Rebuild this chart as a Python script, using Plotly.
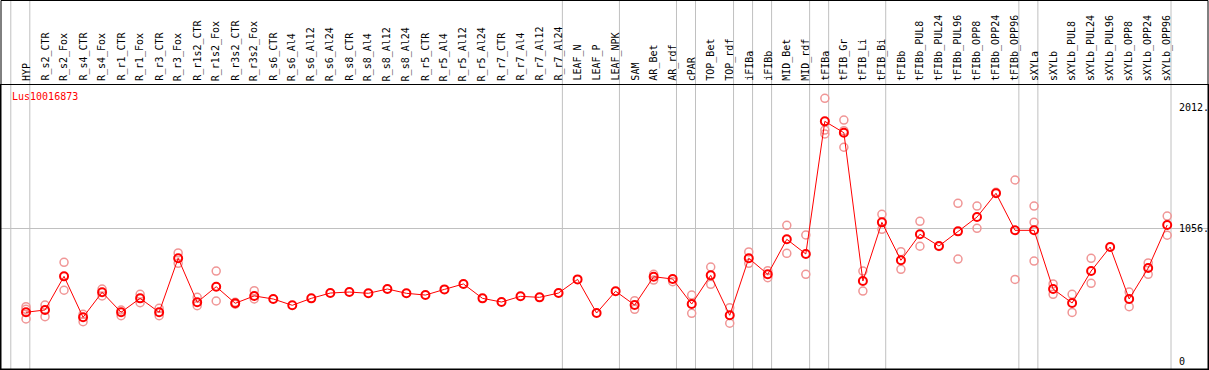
import plotly.graph_objects as go

title = "Lus10016873"

categories = ["HYP", "R_s2_CTR", "R_s2_Fox", "R_s4_CTR", "R_s4_Fox", "R_r1_CTR", "R_r1_Fox",
              "R_r3_CTR", "R_r3_Fox", "R_r1s2_CTR", "R_r1s2_Fox", "R_r3s2_CTR", "R_r3s2_Fox",
              "R_s6_CTR", "R_s6_Al4", "R_s6_Al12", "R_s6_Al24", "R_s8_CTR", "R_s8_Al4",
              "R_s8_Al12", "R_s8_Al24", "R_r5_CTR", "R_r5_Al4", "R_r5_Al12", "R_r5_Al24",
              "R_r7_CTR", "R_r7_Al4", "R_r7_Al12", "R_r7_Al24", "LEAF_N", "LEAF_P", "LEAF_NPK",
              "SAM", "AR_Bet", "AR_rdf", "cPAR", "TOP_Bet", "TOP_rdf", "iFIBa", "iFIBb",
              "MID_Bet", "MID_rdf", "tFIBa", "tFIB_Gr", "tFIB_Li", "tFIB_Bi", "tFIBb",
              "tFIBb_PUL8", "tFIBb_PUL24", "tFIBb_PUL96", "tFIBb_OPP8", "tFIBb_OPP24",
              "tFIBb_OPP96", "sXYLa", "sXYLb", "sXYLb_PUL8", "sXYLb_PUL24", "sXYLb_PUL96",
              "sXYLb_OPP8", "sXYLb_OPP24", "sXYLb_OPP96"]

mean_values = [391, 409, 675, 351, 549, 391, 501, 391, 818, 470, 593, 462, 520,
               496, 446, 501, 543, 551, 541, 575, 541, 527, 572, 615, 501, 472, 517, 509, 543,
               651, 385, 557, 448, 672, 654, 456, 683, 367, 818, 691, 968, 852,
               1901, 1811, 638, 1102, 802, 1008, 915, 1031, 1144, 1332, 1039,
               1039, 575, 464, 717, 907, 496, 741, 1081]

replicates = [[435, 414, 338], [448, 356], [786, 565], [375, 316], [575, 520], [409, 364],
              [533, 467], [422, 364], [860, 778], [509, 443], [717, 480], [470, 455], [562, 496],
              [], [], [], [], [], [], [], [], [], [], [], [], [], [], [], [],
              [], [], [], [483, 414], [691, 646], [633], [527, 383], [749, 612], [427, 304],
              [868, 778], [720, 664], [1079, 857], [1002, 691],
              [2083, 1832, 1801], [1911, 1827, 1696], [717, 559], [1166, 1047], [870, 731],
              [1110, 913], [912], [1253, 812], [1231, 1055], [1340], [1437, 651],
              [1231, 1102, 796], [615, 533], [533, 390], [818, 620], [], [551, 435],
              [781, 691], [1152, 1000]]

group_ends = [-1, 0, 28, 31, 34, 35, 37, 38, 39, 41, 42, 45, 52, 53, 60]

y_tick_vals = [0, 1056, 2012]
y_tick_text = ["0", "1056.", "2012."]

W, H = 1209, 370
ML, MR, MT, MB = 1, 1, 85, 1
PW, PH = W - ML - MR, H - MT - MB
x_range = [(ML - 26) / 19.02, (W - MR - 26) / 19.02]
y_range = [(361.7 - (H - MB)) / 0.12644, (361.7 - MT) / 0.12644]

idx = list(range(len(categories)))
rx, ry = [], []
for i, reps in enumerate(replicates):
    for v in reps:
        rx.append(i)
        ry.append(v)

fig = go.Figure()
fig.add_trace(go.Scatter(x=rx, y=ry, mode="markers",
                         marker=dict(symbol="circle-open", size=8, color="rgb(240,150,150)",
                                     line=dict(width=1.5, color="rgb(240,150,150)")),
                         hoverinfo="skip", showlegend=False))
fig.add_trace(go.Scatter(x=idx, y=mean_values, mode="lines+markers",
                         line=dict(color="red", width=1),
                         marker=dict(symbol="circle-open", size=8, color="red",
                                     line=dict(width=2, color="red")),
                         showlegend=False))

def px_x(v):
    return (v - x_range[0]) / (x_range[1] - x_range[0])

shapes = []
top_paper = 1 + (MT - 0.5) / PH
for g in group_ends:
    xp = px_x(g + 0.2)
    shapes.append(dict(type="line", xref="paper", yref="paper", x0=xp, x1=xp, y0=0, y1=top_paper,
                       line=dict(color="#c0c0c0", width=1), layer="below"))
shapes.append(dict(type="rect", xref="paper", yref="paper", x0=0, x1=1, y0=0, y1=top_paper,
                   line=dict(color="black", width=1), fillcolor="rgba(0,0,0,0)"))

annotations = [dict(text=title, xref="paper", yref="paper", x=(9.5 - ML) / PW, y=1 - (97 - MT) / PH,
                    xanchor="left", yanchor="middle", showarrow=False,
                    font=dict(family="DejaVu Sans Mono", size=10, color="red"))]
for v, t in zip(y_tick_vals, y_tick_text):
    annotations.append(dict(text=t, xref="paper", yref="y", x=(1177 - ML) / PW, y=v,
                            xanchor="left", yanchor="middle", showarrow=False,
                            font=dict(family="DejaVu Sans Mono", size=10, color="black")))
for i, c in enumerate(categories):
    annotations.append(dict(text=c, xref="x", yref="paper", x=i, y=1 + 2 / PH,
                            xanchor="center", yanchor="bottom", textangle=-90, showarrow=False,
                            font=dict(family="DejaVu Sans Mono", size=10, color="black")))

fig.update_layout(
    width=W, height=H, margin=dict(l=ML, r=MR, t=MT, b=MB, pad=0),
    paper_bgcolor="white", plot_bgcolor="white",
    xaxis=dict(range=x_range, showgrid=False, zeroline=False, showticklabels=False, ticks="",
               showline=True, mirror=True, linecolor="black", linewidth=1),
    yaxis=dict(range=y_range, tickvals=[1056], showgrid=True, gridcolor="#c0c0c0", gridwidth=1,
               zeroline=False, showticklabels=False, ticks="",
               showline=True, mirror=True, linecolor="black", linewidth=1),
    shapes=shapes, annotations=annotations, showlegend=False,
)

fig.write_html("out.html", config={"displayModeBar": False},
               post_script="document.body.style.margin='0';document.body.style.padding='0';"
                           "document.body.style.overflow='hidden';")
